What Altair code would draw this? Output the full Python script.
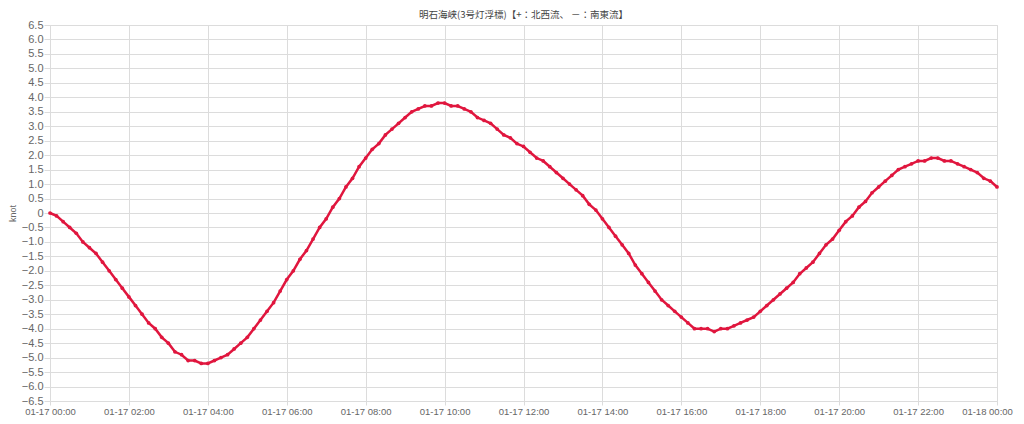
import altair as alt
import pandas as pd

# Tidal current speed (knot), every 10 minutes from 01-17 00:00 to 01-18 00:00
knot_00_04 = [0.0, -0.1, -0.3, -0.5, -0.7, -1.0, -1.2, -1.4, -1.7, -2.0, -2.3, -2.6,
              -2.9, -3.2, -3.5, -3.8, -4.0, -4.3, -4.5, -4.8, -4.9, -5.1, -5.1, -5.2, -5.2]
knot_04_10 = [-5.1, -5.0, -4.9, -4.7, -4.5, -4.3, -4.0, -3.7, -3.4, -3.1, -2.7, -2.3,
              -2.0, -1.6, -1.3, -0.9, -0.5, -0.2, 0.2, 0.5, 0.9, 1.2, 1.6, 1.9,
              2.2, 2.4, 2.7, 2.9, 3.1, 3.3, 3.5, 3.6, 3.7, 3.7, 3.8, 3.8]
knot_10_15 = [3.7, 3.7, 3.6, 3.5, 3.3, 3.2, 3.1, 2.9, 2.7, 2.6, 2.4, 2.3,
              2.1, 1.9, 1.8, 1.6, 1.4, 1.2, 1.0, 0.8, 0.6, 0.3, 0.1, -0.2,
              -0.5, -0.8, -1.1, -1.4, -1.8]
knot_15_20 = [-2.1, -2.4, -2.7, -3.0, -3.2, -3.4, -3.6, -3.8, -4.0, -4.0, -4.0, -4.1,
              -4.0, -4.0, -3.9, -3.8, -3.7, -3.6, -3.4, -3.2, -3.0, -2.8, -2.6, -2.4,
              -2.1, -1.9, -1.7, -1.4, -1.1, -0.9, -0.6]
knot_20_24 = [-0.3, -0.1, 0.2, 0.4, 0.7, 0.9, 1.1, 1.3, 1.5, 1.6, 1.7, 1.8,
              1.8, 1.9, 1.9, 1.8, 1.8, 1.7, 1.6, 1.5, 1.4, 1.2, 1.1, 0.9]

speed_knot = knot_00_04 + knot_04_10 + knot_10_15 + knot_15_20 + knot_20_24

start_time = "2025-01-17 00:00"
time_step = "10min"

# x tick positions: (day, hour)
x_ticks = [(17, 0), (17, 2), (17, 4), (17, 6), (17, 8), (17, 10), (17, 12),
           (17, 14), (17, 16), (17, 18), (17, 20), (17, 22), (18, 0)]

y_ticks = [6.5, 6.0, 5.5, 5.0, 4.5, 4.0, 3.5, 3.0, 2.5, 2.0, 1.5, 1.0, 0.5, 0.0,
           -0.5, -1.0, -1.5, -2.0, -2.5, -3.0, -3.5, -4.0, -4.5, -5.0, -5.5, -6.0, -6.5]

title_text = "明石海峡(3号灯浮標)【+：北西流、 －：南東流】"
y_title = "knot"

RED = "#e0163e"
GRID = "#dcdcdc"
LABEL = "#666666"

times = pd.date_range(start_time, periods=len(speed_knot), freq=time_step)
df = pd.DataFrame({"time": times, "knot": speed_knot})

x_values = [alt.DateTime(year=2025, month=1, date=d, hours=h) for d, h in x_ticks]

x_enc = alt.X(
    "time:T",
    scale=alt.Scale(nice=False),
    axis=alt.Axis(
        format="%m-%d %H:%M",
        values=x_values,
        tickCount=40,
        title=None,
        labelFontSize=9.5,
        labelPadding=1,
        tickSize=4,
        labelOverlap=False,
        labelFlush=False,
        labelOffset={"condition": {"test": "datum.index == 1", "value": -10}, "value": 0},
    ),
)
y_enc = alt.Y(
    "knot:Q",
    scale=alt.Scale(domain=[-6.5, 6.5], nice=False, zero=False),
    axis=alt.Axis(
        values=y_ticks,
        tickCount=40,
        labelExpr="datum.value == 0 ? '0' : format(datum.value, '.1f')",
        labelOverlap=False,
        title=y_title,
        titleAngle=-90,
        titleX=-38,
        titleY=188,
        titleAlign="center",
        titleBaseline="middle",
        titleFontSize=9,
        titleFontWeight="normal",
        titleColor=LABEL,
        labelFontSize=11,
        labelPadding=1,
        tickSize=6,
    ),
)

line = alt.Chart(df).mark_line(color=RED, strokeWidth=2.5).encode(x=x_enc, y=y_enc)
points = alt.Chart(df).mark_circle(color=RED, size=14, opacity=1).encode(x="time:T", y="knot:Q")

chart = (
    alt.layer(line, points)
    .properties(
        width=947,
        height=376,
        title=alt.TitleParams(
            title_text,
            fontSize=9.5,
            font="Noto Sans CJK JP",
            fontWeight="normal",
            color="#444444",
            anchor="middle",
            offset=0,
        ),
        autosize=alt.AutoSizeParams(type="none"),
        padding={"left": 42, "top": 17, "right": 19, "bottom": 16},
    )
    .configure_axis(
        gridColor=GRID,
        gridWidth=1,
        domainColor=GRID,
        tickColor=GRID,
        labelColor=LABEL,
        labelFont="Liberation Sans",
        titleFont="Liberation Sans",
    )
    .configure_view(stroke=GRID)
)

chart.save("out.html", embed_options={"renderer": "svg", "actions": False})
